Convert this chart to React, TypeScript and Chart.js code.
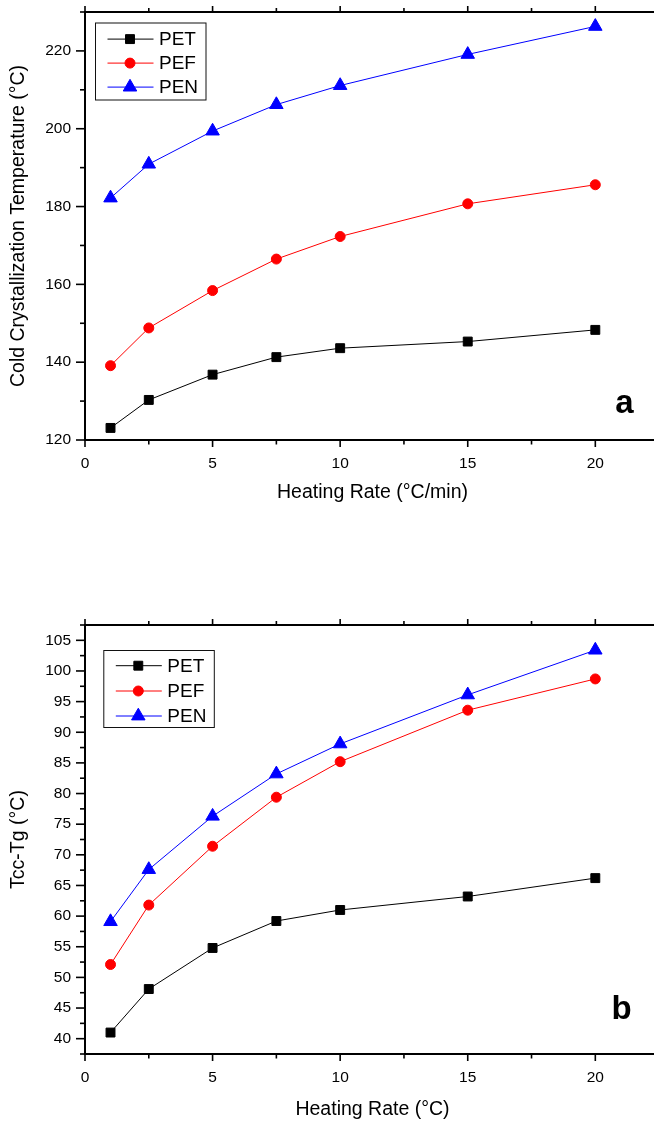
import React, { useEffect, useRef } from 'react';
import { Chart, registerables } from 'chart.js';

Chart.register(...registerables);

// ---------- data ----------
const heatingRates = [1, 2.5, 5, 7.5, 10, 15, 20];
const seriesNames = ['PET', 'PEF', 'PEN'];
const seriesColors = ['#000000', '#ff0000', '#0000ff'];
const seriesShapes = ['rect', 'circle', 'triangle'];

// panel a: cold crystallization temperature (°C)
const tccPET = [123.1, 130.3, 136.8, 141.3, 143.6, 145.3, 148.3];
const tccPEF = [139.1, 148.8, 158.4, 166.5, 172.3, 180.7, 185.6];
const tccPEN = [182.2, 190.9, 199.4, 206.2, 211.1, 219.1, 226.3];

// panel b: Tcc - Tg (°C)
const dPET = [41.0, 48.1, 54.8, 59.2, 61.0, 63.2, 66.2];
const dPEF = [52.1, 61.8, 71.4, 79.4, 85.2, 93.6, 98.7];
const dPEN = [59.1, 67.6, 76.3, 83.2, 88.1, 96.1, 103.4];

const FONT = "'Liberation Sans', Arial, Helvetica, sans-serif";

type PanelCfg = {
  top: number;
  height: number;
  series: number[][];
  yMin: number;
  yMax: number;
  yStep: number;
  yMajor: number;
  xMax: number;
  xTitle: string;
  yTitle: string;
  letter: string;
  topH: number;
  bottomH: number;
  legendDx: number;
  legendDy: number;
  legendRows: number[];
  xTitleOff: number;
  letterDx: number;
  letterDy: number;
};

const panelA: PanelCfg = {
  top: 0,
  height: 560,
  series: [tccPET, tccPEF, tccPEN],
  yMin: 120,
  yMax: 230,
  yStep: 10,
  yMajor: 20,
  xMax: 22.3,
  xTitle: 'Heating Rate (\u00B0C/min)',
  yTitle: 'Cold Crystallization Temperature (\u00B0C)',
  letter: 'a',
  topH: 12,
  bottomH: 120,
  legendDx: 10,
  legendDy: 10.5,
  legendRows: [16.6, 40.6, 64.6],
  xTitleOff: 53,
  letterDx: -29.5,
  letterDy: -27,
};

const panelB: PanelCfg = {
  top: 560,
  height: 561,
  series: [dPET, dPEF, dPEN],
  yMin: 37.5,
  yMax: 107.5,
  yStep: 2.5,
  yMajor: 5,
  xMax: 22.3,
  xTitle: 'Heating Rate (\u00B0C)',
  yTitle: 'Tcc-Tg (\u00B0C)',
  letter: 'b',
  topH: 65,
  bottomH: 67,
  legendDx: 18.3,
  legendDy: 25,
  legendRows: [15.7, 41, 66],
  xTitleOff: 56,
  letterDx: -32.5,
  letterDy: -35,
};

const pointRadii: Record<string, number> = { rect: 6.3, circle: 5, triangle: 7.8 };

function drawMarker(ctx: CanvasRenderingContext2D, shape: string, x: number, y: number, color: string) {
  const r = pointRadii[shape];
  ctx.save();
  ctx.fillStyle = color;
  ctx.strokeStyle = color;
  ctx.lineWidth = 1;
  ctx.beginPath();
  if (shape === 'rect') {
    const s = r * Math.SQRT1_2;
    ctx.rect(x - s, y - s, 2 * s, 2 * s);
  } else if (shape === 'circle') {
    ctx.arc(x, y, r, 0, Math.PI * 2);
  } else {
    const a = -Math.PI / 2;
    for (let i = 0; i < 3; i++) {
      const ang = a + (i * 2 * Math.PI) / 3;
      const px = x + Math.cos(ang) * r;
      const py = y + Math.sin(ang) * r;
      if (i === 0) ctx.moveTo(px, py);
      else ctx.lineTo(px, py);
    }
    ctx.closePath();
  }
  ctx.fill();
  ctx.stroke();
  ctx.restore();
}

const decorPlugin = {
  id: 'decor',
  afterDraw(chart: any, _args: any, opts: any) {
    const cfg: PanelCfg = opts.cfg;
    if (!cfg) return;
    const { ctx, chartArea: ca } = chart;
    const xs = chart.scales.x;
    const ys = chart.scales.y;
    ctx.save();
    ctx.strokeStyle = '#000';
    ctx.lineWidth = 1.6;
    const seg = (x1: number, y1: number, x2: number, y2: number) => {
      ctx.beginPath();
      ctx.moveTo(x1, y1);
      ctx.lineTo(x2, y2);
      ctx.stroke();
    };
    // x tick marks, bottom and top
    xs.ticks.forEach((t: any) => {
      const px = xs.getPixelForValue(t.value);
      const major = Math.abs(t.value / 5 - Math.round(t.value / 5)) < 1e-6;
      seg(px, ca.bottom, px, ca.bottom + (major ? 7 : 4.5));
      seg(px, ca.top, px, ca.top - (major ? 6 : 4));
    });
    // y tick marks, left
    ys.ticks.forEach((t: any) => {
      const py = ys.getPixelForValue(t.value);
      const major = Math.abs(t.value / cfg.yMajor - Math.round(t.value / cfg.yMajor)) < 1e-6;
      seg(ca.left, py, ca.left - (major ? 9 : 5), py);
    });

    // legend
    const bx = ca.left + cfg.legendDx;
    const by = ca.top + cfg.legendDy;
    ctx.lineWidth = 1;
    ctx.strokeStyle = '#111';
    ctx.strokeRect(bx + 0.5, by + 0.5, 110.5, 77);
    ctx.font = `19px ${FONT}`;
    ctx.textBaseline = 'middle';
    ctx.textAlign = 'left';
    seriesNames.forEach((name, i) => {
      const ry = by + cfg.legendRows[i];
      ctx.strokeStyle = seriesColors[i];
      ctx.lineWidth = 1;
      seg(bx + 12.5, ry, bx + 58.5, ry);
      drawMarker(ctx, seriesShapes[i], bx + 35, ry, seriesColors[i]);
      ctx.fillStyle = '#000';
      ctx.fillText(name, bx + 64, ry + 1);
    });

    // axis titles
    ctx.fillStyle = '#000';
    ctx.font = `19.5px ${FONT}`;
    ctx.textAlign = 'center';
    ctx.textBaseline = 'middle';
    ctx.fillText(cfg.xTitle, (ca.left + ca.right) / 2 + 3, ca.bottom + cfg.xTitleOff);
    ctx.save();
    ctx.translate(19, (ca.top + ca.bottom) / 2);
    ctx.rotate(-Math.PI / 2);
    ctx.fillText(cfg.yTitle, 0, 0);
    ctx.restore();

    // panel letter
    ctx.font = `bold 33px ${FONT}`;
    ctx.textBaseline = 'alphabetic';
    ctx.fillText(cfg.letter, ca.right + cfg.letterDx, ca.bottom + cfg.letterDy);
    ctx.restore();
  },
};

function buildConfig(cfg: PanelCfg): any {
  const tickFont = { family: FONT, size: 15.5 };
  return {
    type: 'line',
    data: {
      datasets: cfg.series.map((vals, i) => ({
        label: seriesNames[i],
        data: heatingRates.map((x, j) => ({ x, y: vals[j] })),
        borderColor: seriesColors[i],
        backgroundColor: seriesColors[i],
        borderWidth: 1,
        pointStyle: seriesShapes[i],
        pointRadius: pointRadii[seriesShapes[i]],
        pointBorderWidth: 1,
        pointBorderColor: seriesColors[i],
        pointBackgroundColor: seriesColors[i],
        tension: 0,
        fill: false,
        clip: false,
      })),
    },
    options: {
      responsive: false,
      animation: false,
      devicePixelRatio: 1,
      layout: { padding: 0, autoPadding: false },
      plugins: {
        legend: { display: false },
        tooltip: { enabled: false },
        decor: { cfg },
      },
      scales: {
        x: {
          type: 'linear',
          position: 'bottom',
          min: 0,
          max: cfg.xMax,
          afterFit: (s: any) => {
            s.height = cfg.bottomH;
            s.paddingLeft = 0;
            s.paddingRight = 0;
          },
          ticks: {
            stepSize: 2.5,
            includeBounds: false,
            autoSkip: false,
            maxRotation: 0,
            padding: 7,
            color: '#000',
            font: tickFont,
            callback: (v: number) => (Math.abs(v / 5 - Math.round(v / 5)) < 1e-6 ? String(v) : ''),
          },
          grid: { drawOnChartArea: false, drawTicks: true, tickLength: 7, tickColor: 'transparent' },
          border: { display: true, color: '#000', width: 2 },
        },
        x2: {
          type: 'linear',
          position: 'top',
          min: 0,
          max: cfg.xMax,
          afterFit: (s: any) => {
            s.height = cfg.topH;
            s.paddingLeft = 0;
            s.paddingRight = 0;
          },
          ticks: { display: false, stepSize: 2.5, includeBounds: false },
          grid: { drawOnChartArea: false, drawTicks: false },
          border: { display: true, color: '#000', width: 2 },
        },
        y: {
          type: 'linear',
          position: 'left',
          min: cfg.yMin,
          max: cfg.yMax,
          afterFit: (s: any) => {
            s.width = 85;
            s.paddingTop = 0;
            s.paddingBottom = 0;
          },
          ticks: {
            stepSize: cfg.yStep,
            autoSkip: false,
            padding: 5,
            color: '#000',
            font: tickFont,
            callback: (v: number) =>
              Math.abs(v / cfg.yMajor - Math.round(v / cfg.yMajor)) < 1e-6 ? String(v) : '',
          },
          grid: { drawOnChartArea: false, drawTicks: true, tickLength: 9, tickColor: 'transparent' },
          border: { display: true, color: '#000', width: 2 },
        },
      },
    },
    plugins: [decorPlugin],
  };
}

function Panel({ cfg }: { cfg: PanelCfg }) {
  const ref = useRef<HTMLCanvasElement | null>(null);
  useEffect(() => {
    if (!ref.current) return;
    const chart = new Chart(ref.current, buildConfig(cfg));
    return () => chart.destroy();
  }, [cfg]);
  return (
    <canvas
      ref={ref}
      width={654}
      height={cfg.height}
      style={{ display: 'block', position: 'absolute', left: 0, top: cfg.top, width: 654, height: cfg.height }}
    />
  );
}

export default function App() {
  return (
    <div
      style={{
        position: 'absolute',
        left: 0,
        top: 0,
        width: 654,
        height: 1121,
        background: '#ffffff',
        overflow: 'hidden',
      }}
    >
      <Panel cfg={panelA} />
      <Panel cfg={panelB} />
    </div>
  );
}
